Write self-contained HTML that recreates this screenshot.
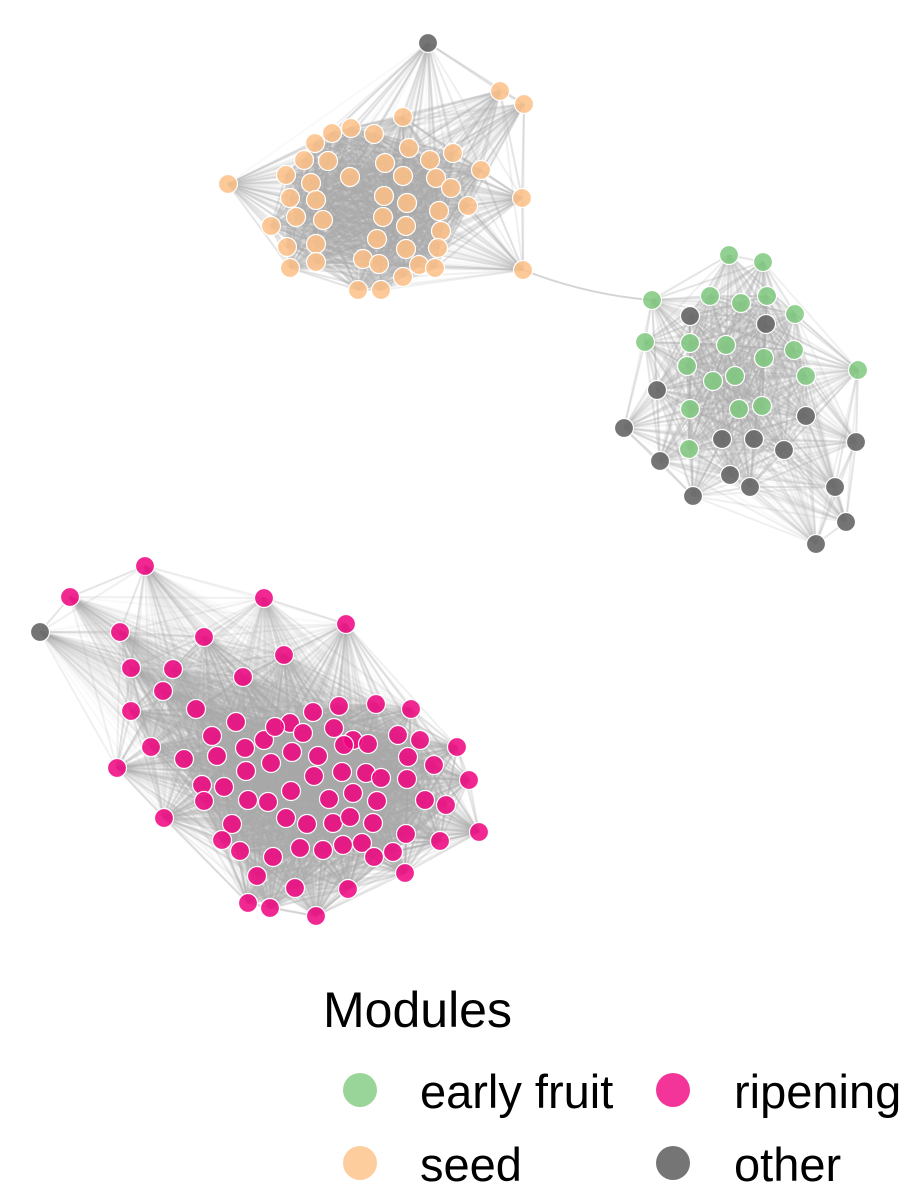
<!DOCTYPE html>
<html><head><meta charset="utf-8"><style>
html,body{margin:0;padding:0;background:#fff;}
svg{display:block;font-family:"Liberation Sans",Arial,sans-serif;}
</style></head><body>
<svg id="chart" width="900" height="1200" viewBox="0 0 900 1200">
<g id="edges"></g>
<g id="nodes"></g>
<g id="legend">
<text x="323" y="1027" font-size="50" fill="#000">Modules</text>
<circle cx="360" cy="1090" r="17" fill="#7fc97f" fill-opacity="0.8"/>
<text x="420" y="1108" font-size="47" fill="#000">early fruit</text>
<circle cx="673" cy="1090" r="17" fill="#f0027f" fill-opacity="0.8"/>
<text x="734" y="1108" font-size="47" fill="#000">ripening</text>
<circle cx="360" cy="1163" r="17" fill="#fdc086" fill-opacity="0.8"/>
<text x="420" y="1181" font-size="47" fill="#000">seed</text>
<circle cx="673" cy="1163" r="17" fill="#666666" fill-opacity="0.9"/>
<text x="734" y="1181" font-size="47" fill="#000">other</text>
</g>
</svg>
<script>
const moduleColors = {early:"#7fc97f", seed:"#fdc086", ripening:"#f0027f", other:"#666666"};
// [x, y, cluster]
const seedNodes = [[500,91,0],[524,104,0],[403,117,0],[351,128,0],[332,133,0],[374,134,0],[315,143,0],[409,148,0],[304,160,0],[328,161,0],[385,163,0],[430,160,0],[453,153,0],[481,170,0],[228,184,0],[286,175,0],[311,183,0],[350,177,0],[403,176,0],[436,178,0],[451,188,0],[522,198,0],[290,198,0],[316,200,0],[384,196,0],[407,203,0],[439,211,0],[468,206,0],[271,226,0],[296,217,0],[323,220,0],[383,217,0],[406,226,0],[441,231,0],[287,247,0],[316,244,0],[377,239,0],[406,249,0],[438,248,0],[290,268,0],[316,262,0],[363,259,0],[379,264,0],[419,265,0],[435,268,0],[403,277,0],[523,270,0],[358,290,0],[381,290,0]];
const earlyNodes = [[729,255,1],[763,262,1],[652,300,1],[710,296,1],[741,303,1],[767,296,1],[795,314,1],[645,342,1],[690,343,1],[726,345,1],[764,358,1],[794,350,1],[687,366,1],[735,376,1],[713,381,1],[858,370,1],[806,376,1],[690,409,1],[739,409,1],[762,406,1],[689,449,1]];
const otherNodes = [[428,43,0],[40,632,2],[690,316,1],[766,324,1],[657,390,1],[806,416,1],[624,428,1],[722,439,1],[754,439,1],[784,450,1],[856,442,1],[660,461,1],[730,475,1],[750,487,1],[693,496,1],[835,487,1],[846,522,1],[816,544,1]];
const ripeningNodes = [[145,566,2],[70,597,2],[264,598,2],[120,632,2],[204,637,2],[346,624,2],[131,668,2],[173,669,2],[243,677,2],[284,655,2],[163,691,2],[131,711,2],[196,709,2],[236,722,2],[290,723,2],[313,712,2],[339,706,2],[376,704,2],[411,709,2],[212,736,2],[264,740,2],[275,727,2],[303,733,2],[334,728,2],[353,740,2],[398,735,2],[420,740,2],[151,747,2],[184,759,2],[217,756,2],[245,748,2],[271,763,2],[292,752,2],[318,756,2],[344,745,2],[368,744,2],[408,757,2],[434,765,2],[457,747,2],[117,768,2],[246,771,2],[314,776,2],[342,772,2],[366,773,2],[381,778,2],[407,779,2],[202,785,2],[224,787,2],[248,800,2],[268,802,2],[291,791,2],[329,799,2],[353,793,2],[377,801,2],[425,800,2],[446,805,2],[469,780,2],[204,801,2],[164,818,2],[232,824,2],[286,818,2],[307,824,2],[333,823,2],[350,817,2],[373,823,2],[406,834,2],[440,841,2],[479,832,2],[222,840,2],[240,851,2],[300,848,2],[323,850,2],[343,845,2],[362,843,2],[374,857,2],[393,852,2],[273,857,2],[257,876,2],[295,888,2],[348,889,2],[405,873,2],[248,903,2],[270,908,2],[316,916,2]];
const bridgeEdges = [[523,270,652,300]];

const NS = "http://www.w3.org/2000/svg";
const all = [];
seedNodes.forEach(n=>all.push([n[0],n[1],n[2],"seed"]));
earlyNodes.forEach(n=>all.push([n[0],n[1],n[2],"early"]));
otherNodes.forEach(n=>all.push([n[0],n[1],n[2],"other"]));
ripeningNodes.forEach(n=>all.push([n[0],n[1],n[2],"ripening"]));

const eg = document.getElementById("edges");
eg.setAttribute("stroke", "#aaaaaa");
eg.setAttribute("stroke-width", "2");
eg.setAttribute("fill", "none");
for (let i=0;i<all.length;i++) for (let j=i+1;j<all.length;j++) {
  if (all[i][2]!==all[j][2]) continue;
  const dx = all[i][0]-all[j][0], dy = all[i][1]-all[j][1];
  const dist = Math.sqrt(dx*dx+dy*dy);
  const l = document.createElementNS(NS,"line");
  l.setAttribute("x1", all[i][0]);
  l.setAttribute("y1", all[i][1]);
  l.setAttribute("x2", all[j][0]);
  l.setAttribute("y2", all[j][1]);
  l.setAttribute("stroke-opacity", dist > 200 ? "0.07" : (dist > 120 ? "0.18" : "0.3"));
  
  
  eg.appendChild(l);
}
bridgeEdges.forEach(e=>{
  const p = document.createElementNS(NS,"path");
  p.setAttribute("d", "M"+e[0]+" "+e[1]+"Q"+((e[0]+e[2])/2)+" "+(e[1]+25)+" "+e[2]+" "+e[3]);
  p.setAttribute("stroke-opacity", "0.5");
  
  
  eg.appendChild(p);
});

const ng = document.getElementById("nodes");
all.forEach(n=>{
  const c = document.createElementNS(NS,"circle");
  c.setAttribute("cx", n[0]);
  c.setAttribute("cy", n[1]);
  c.setAttribute("r", 9.5);
  c.setAttribute("fill", moduleColors[n[3]]);
  c.setAttribute("fill-opacity", n[3]==="other" ? "0.9" : "0.85");
  c.setAttribute("stroke", "#fff");
  c.setAttribute("stroke-width", "1.2");
  
  
  ng.appendChild(c);
});
</script>
</body></html>
